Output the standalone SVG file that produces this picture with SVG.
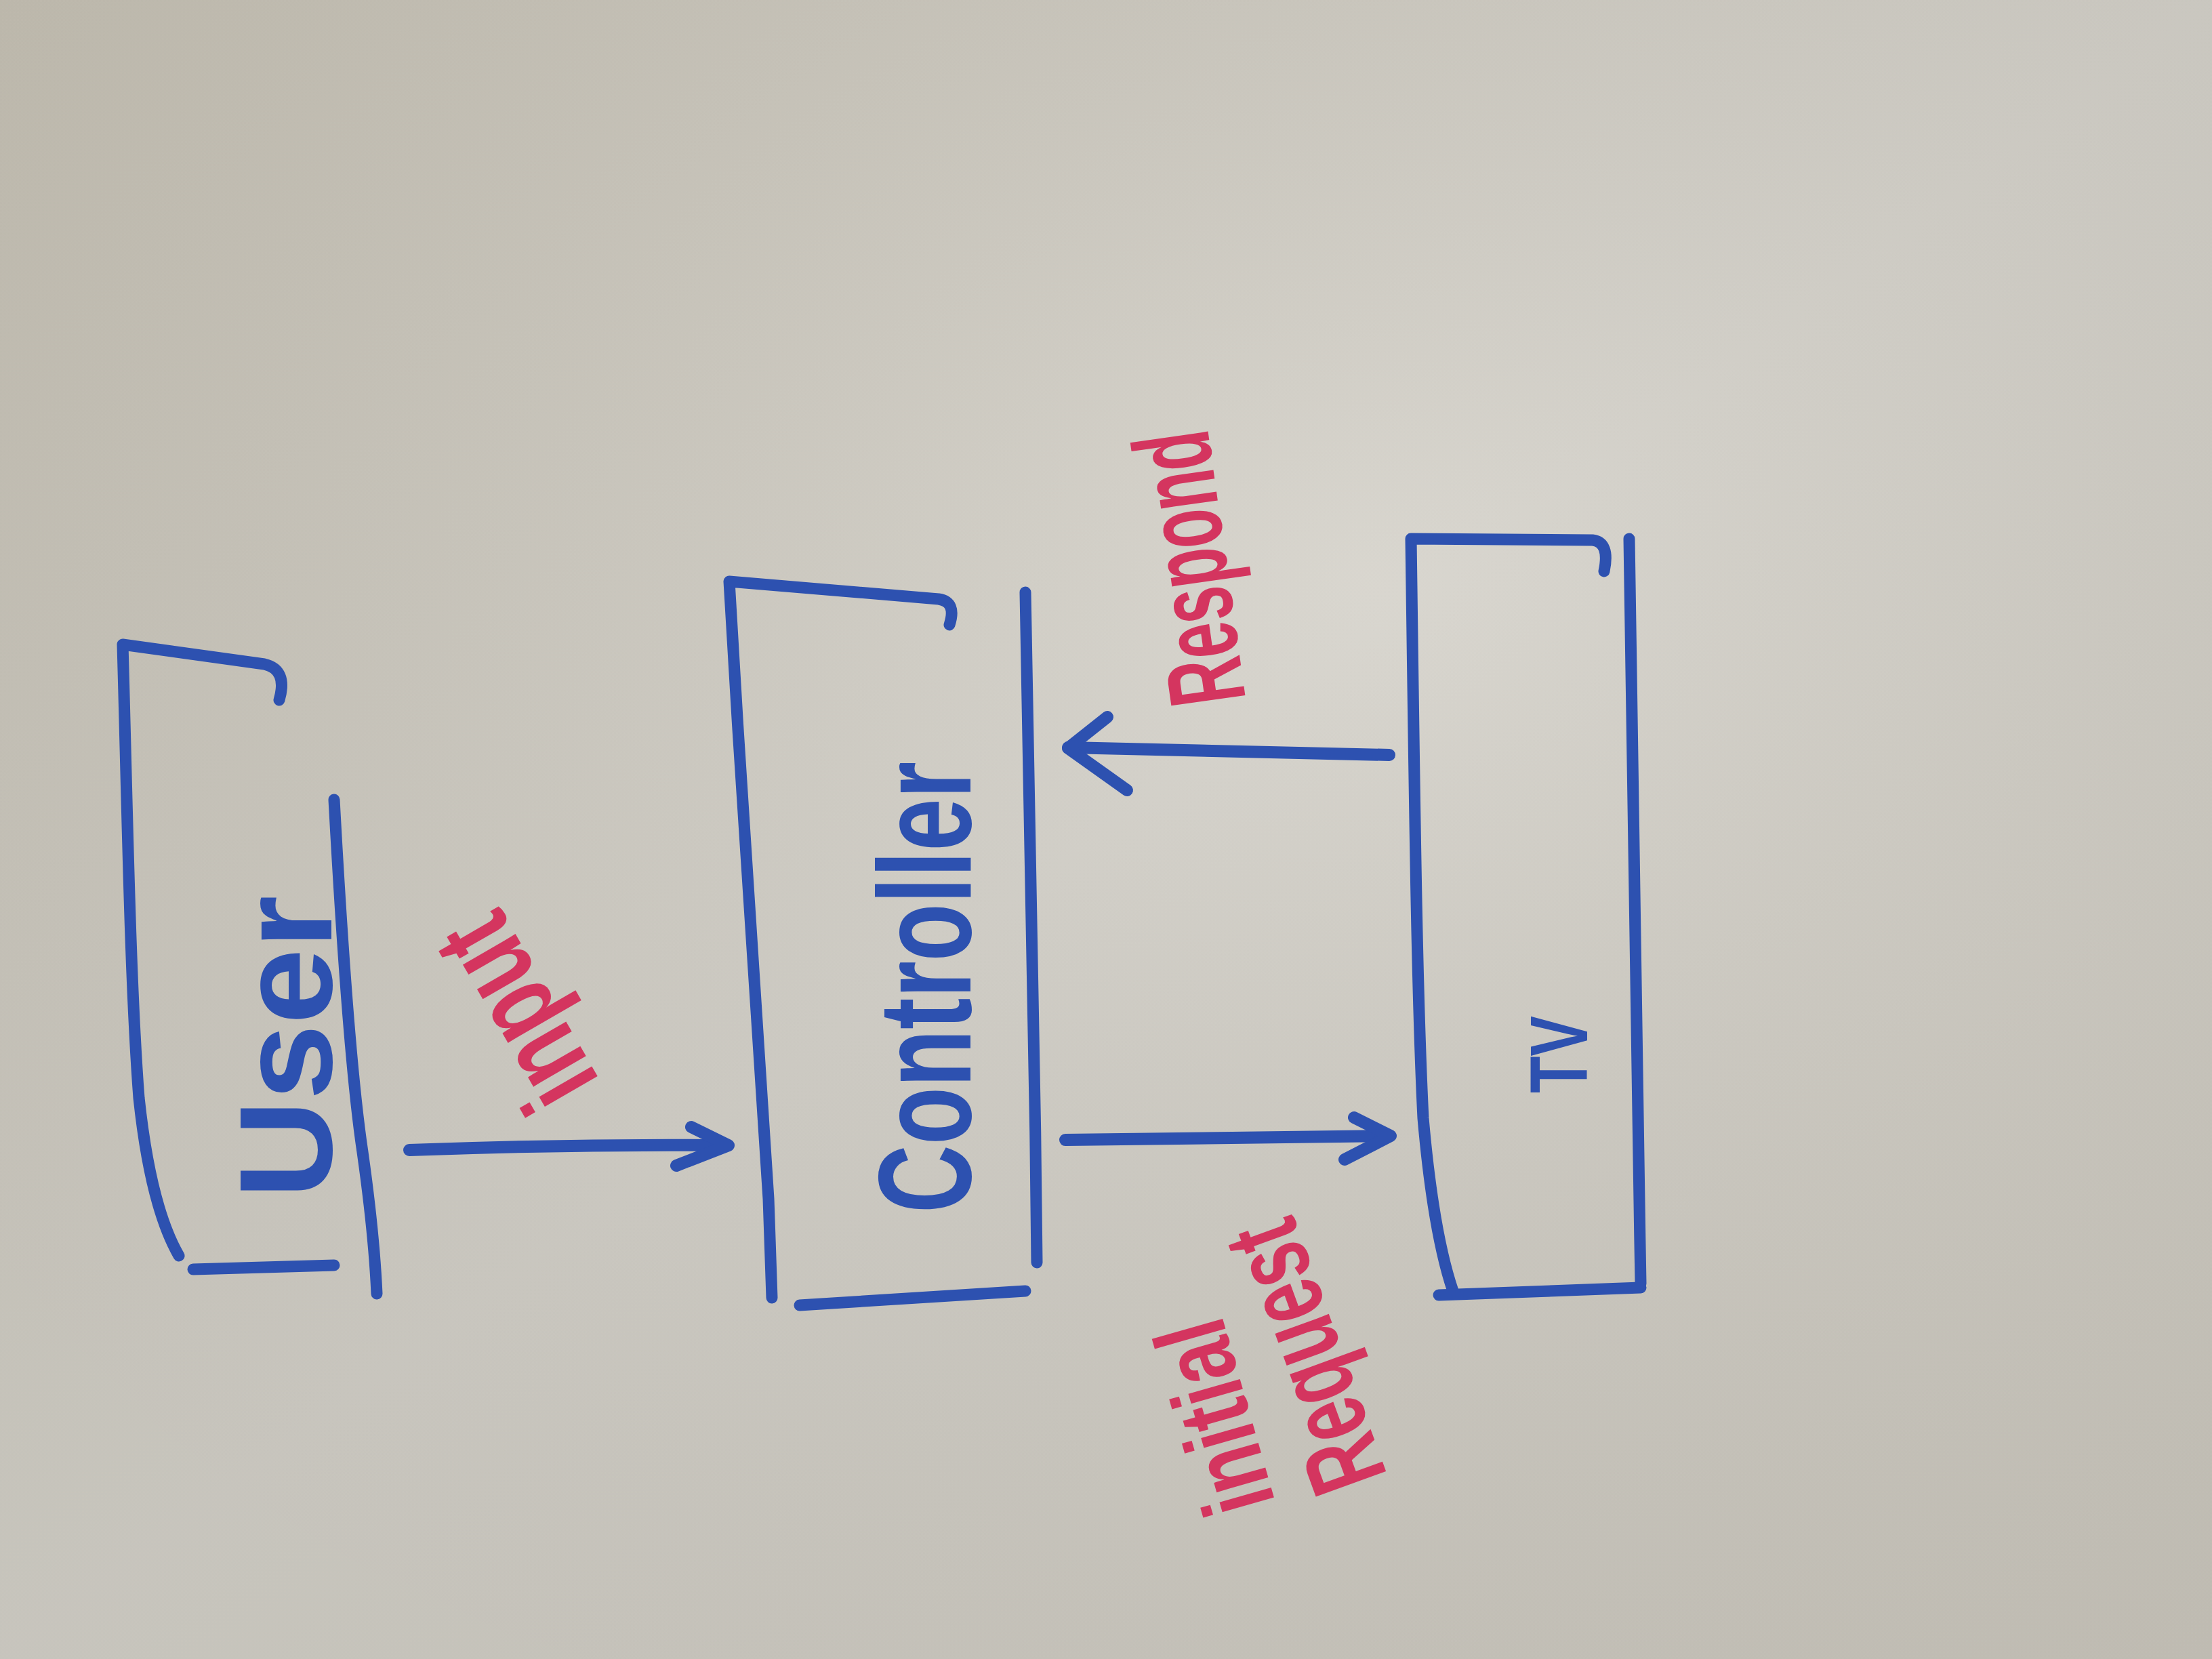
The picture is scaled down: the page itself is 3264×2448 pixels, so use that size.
<svg xmlns="http://www.w3.org/2000/svg" width="3264" height="2448" viewBox="0 0 3264 2448">
<defs>
<linearGradient id="bg" x1="0" y1="0" x2="1" y2="1">
<stop offset="0" stop-color="#c8c3b6"/>
<stop offset="0.5" stop-color="#d4d1c9"/>
<stop offset="1" stop-color="#cbc7bd"/>
</linearGradient>
<radialGradient id="vig" cx="0.62" cy="0.35" r="0.75">
<stop offset="0" stop-color="#ffffff" stop-opacity="0.12"/>
<stop offset="1" stop-color="#000000" stop-opacity="0.06"/>
</radialGradient>
<style>
.box{fill:none;stroke:#2d51b0;stroke-width:17;stroke-linecap:round;stroke-linejoin:round}
.arr{fill:none;stroke:#2d51b0;stroke-width:18;stroke-linecap:round;stroke-linejoin:round}
.lbl{font-family:"Liberation Sans","DejaVu Sans",sans-serif;font-weight:bold;fill:#2d51b0;text-anchor:middle}
.red{font-family:"Liberation Sans","DejaVu Sans",sans-serif;font-weight:bold;fill:#d4355f;text-anchor:middle;dominant-baseline:central}
</style>
</defs>
<rect width="3264" height="2448" fill="url(#bg)"/>
<rect width="3264" height="2448" fill="url(#vig)"/>

<g id="user">
<path class="box" d="M412,1033 Q425,988 390,980 L181,951 C188,1200 192,1450 205,1620 Q222,1780 264,1853"/>
<path class="box" d="M285,1873 L493,1867"/>
<path class="box" d="M493,1180 C505,1400 520,1600 535,1700 Q552,1820 556,1909"/>
<text class="lbl" transform="translate(489,1545) rotate(-90)" font-size="195" textLength="447" lengthAdjust="spacingAndGlyphs">User</text>
</g>

<g id="controller">
<path class="box" d="M1401,922 Q1412,888 1385,884 L1076,858 C1095,1200 1125,1600 1134,1769 L1139,1915"/>
<path class="box" d="M1180,1926 L1513,1905"/>
<path class="box" d="M1513,874 C1520,1100 1526,1500 1530,1863"/>
<text class="lbl" transform="translate(1432,1457) rotate(-90)" font-size="195" textLength="666" lengthAdjust="spacingAndGlyphs">Controller</text>
</g>

<g id="tv">
<path class="box" d="M2367,843 Q2376,800 2350,797 L2082,795 C2087,1150 2090,1450 2100,1650 Q2115,1820 2144,1905"/>
<path class="box" d="M2123,1911 L2421,1900"/>
<path class="box" d="M2404,795 C2408,1100 2414,1500 2421,1894"/>
<text class="lbl" transform="translate(2342,1556) rotate(-90)" font-size="120" textLength="114" lengthAdjust="spacingAndGlyphs">TV</text>
</g>

<g id="connectors">
<path class="arr" d="M604,1697 Q840,1688 1072,1690"/>
<path class="arr" d="M1020,1663 L1075,1690 L998,1720"/>
<path class="arr" d="M1572,1682 L2050,1676"/>
<path class="arr" d="M1998,1649 L2052,1676 L1984,1711"/>
<path class="arr" d="M2050,1114 L1576,1103"/>
<path class="arr" d="M1634,1058 L1576,1104 L1663,1166"/>
</g>

<g id="labels">
<text class="red" transform="translate(760,1495) rotate(-120)" font-size="170" textLength="300" lengthAdjust="spacingAndGlyphs">input</text>
<text class="red" transform="translate(1755,839) rotate(-98)" font-size="160" textLength="406" lengthAdjust="spacingAndGlyphs">Respond</text>
<text class="red" transform="translate(1792,2092) rotate(-106)" font-size="150" textLength="290" lengthAdjust="spacingAndGlyphs">initial</text>
<text class="red" transform="translate(1925,2003) rotate(-110)" font-size="160" textLength="412" lengthAdjust="spacingAndGlyphs">Request</text>
</g>
</svg>
